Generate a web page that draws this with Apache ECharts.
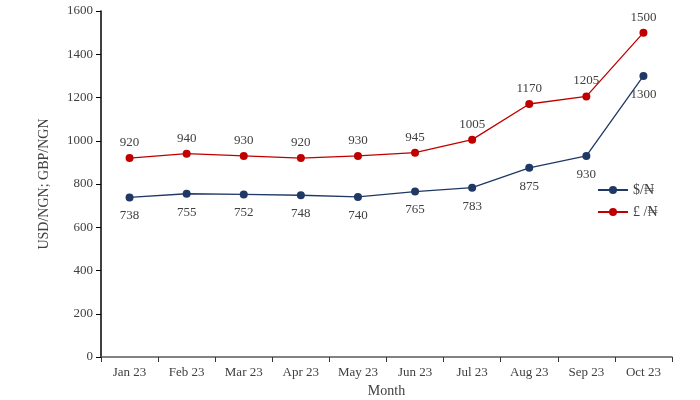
<!DOCTYPE html>
<html><head><meta charset="utf-8">
<script src="https://cdn.jsdelivr.net/npm/echarts@6/dist/echarts.min.js"></script>
<style>html,body{margin:0;padding:0;background:#fff}#c{width:700px;height:400px}</style>
</head><body><div id="c"></div>
<script>
var months = ['Jan 23','Feb 23','Mar 23','Apr 23','May 23','Jun 23','Jul 23','Aug 23','Sep 23','Oct 23'];
var usdNgn = [738,755,752,748,740,765,783,875,930,1300];
var gbpNgn = [920,940,930,920,930,945,1005,1170,1205,1500];
var FONT = 'Liberation Serif';
var TXT = '#404040';
var chart = echarts.init(document.getElementById('c'));
chart.setOption({
  animation:false,
  textStyle:{fontFamily:FONT},
  grid:{left:101,right:28,top:11,bottom:43,containLabel:false,outerBoundsMode:'none'},
  legend:{orient:'vertical',left:592,top:178,itemGap:8,itemWidth:30,itemHeight:10,
    textStyle:{fontFamily:FONT,fontSize:14,color:TXT},
    data:['$/₦','£ /₦']},
  xAxis:{type:'category',data:months,boundaryGap:true,
    name:'Month',nameLocation:'middle',nameGap:27,
    nameTextStyle:{fontFamily:FONT,fontSize:14,color:TXT},
    axisLine:{lineStyle:{color:'#595959',width:1.5}},
    axisTick:{show:true,length:5,lineStyle:{color:'#333'}},
    axisLabel:{fontFamily:FONT,fontSize:13,color:TXT,margin:9}},
  yAxis:{type:'value',min:0,max:1600,interval:200,
    name:'USD/NGN; GBP/NGN',nameLocation:'middle',nameGap:50,nameRotate:90,
    nameTextStyle:{fontFamily:FONT,fontSize:14,color:TXT},
    axisLine:{show:true,lineStyle:{color:'#000',width:1.5}},
    axisTick:{show:true,length:5,lineStyle:{color:'#000'}},
    splitLine:{show:false},
    axisLabel:{fontFamily:FONT,fontSize:13,color:TXT,margin:8,formatter:function(v){return String(v);}}},
  series:[
    {name:'$/₦',type:'line',data:usdNgn,symbol:'circle',symbolSize:8,
      itemStyle:{color:'#1f3864'},lineStyle:{color:'#1f3864',width:1.3},
      label:{show:true,position:'bottom',distance:8,fontFamily:FONT,fontSize:13,color:TXT}},
    {name:'£ /₦',type:'line',data:gbpNgn,symbol:'circle',symbolSize:8,
      itemStyle:{color:'#c00000'},lineStyle:{color:'#c00000',width:1.3},
      label:{show:true,position:'top',distance:5,fontFamily:FONT,fontSize:13,color:TXT}}
  ]
});
</script></body></html>
